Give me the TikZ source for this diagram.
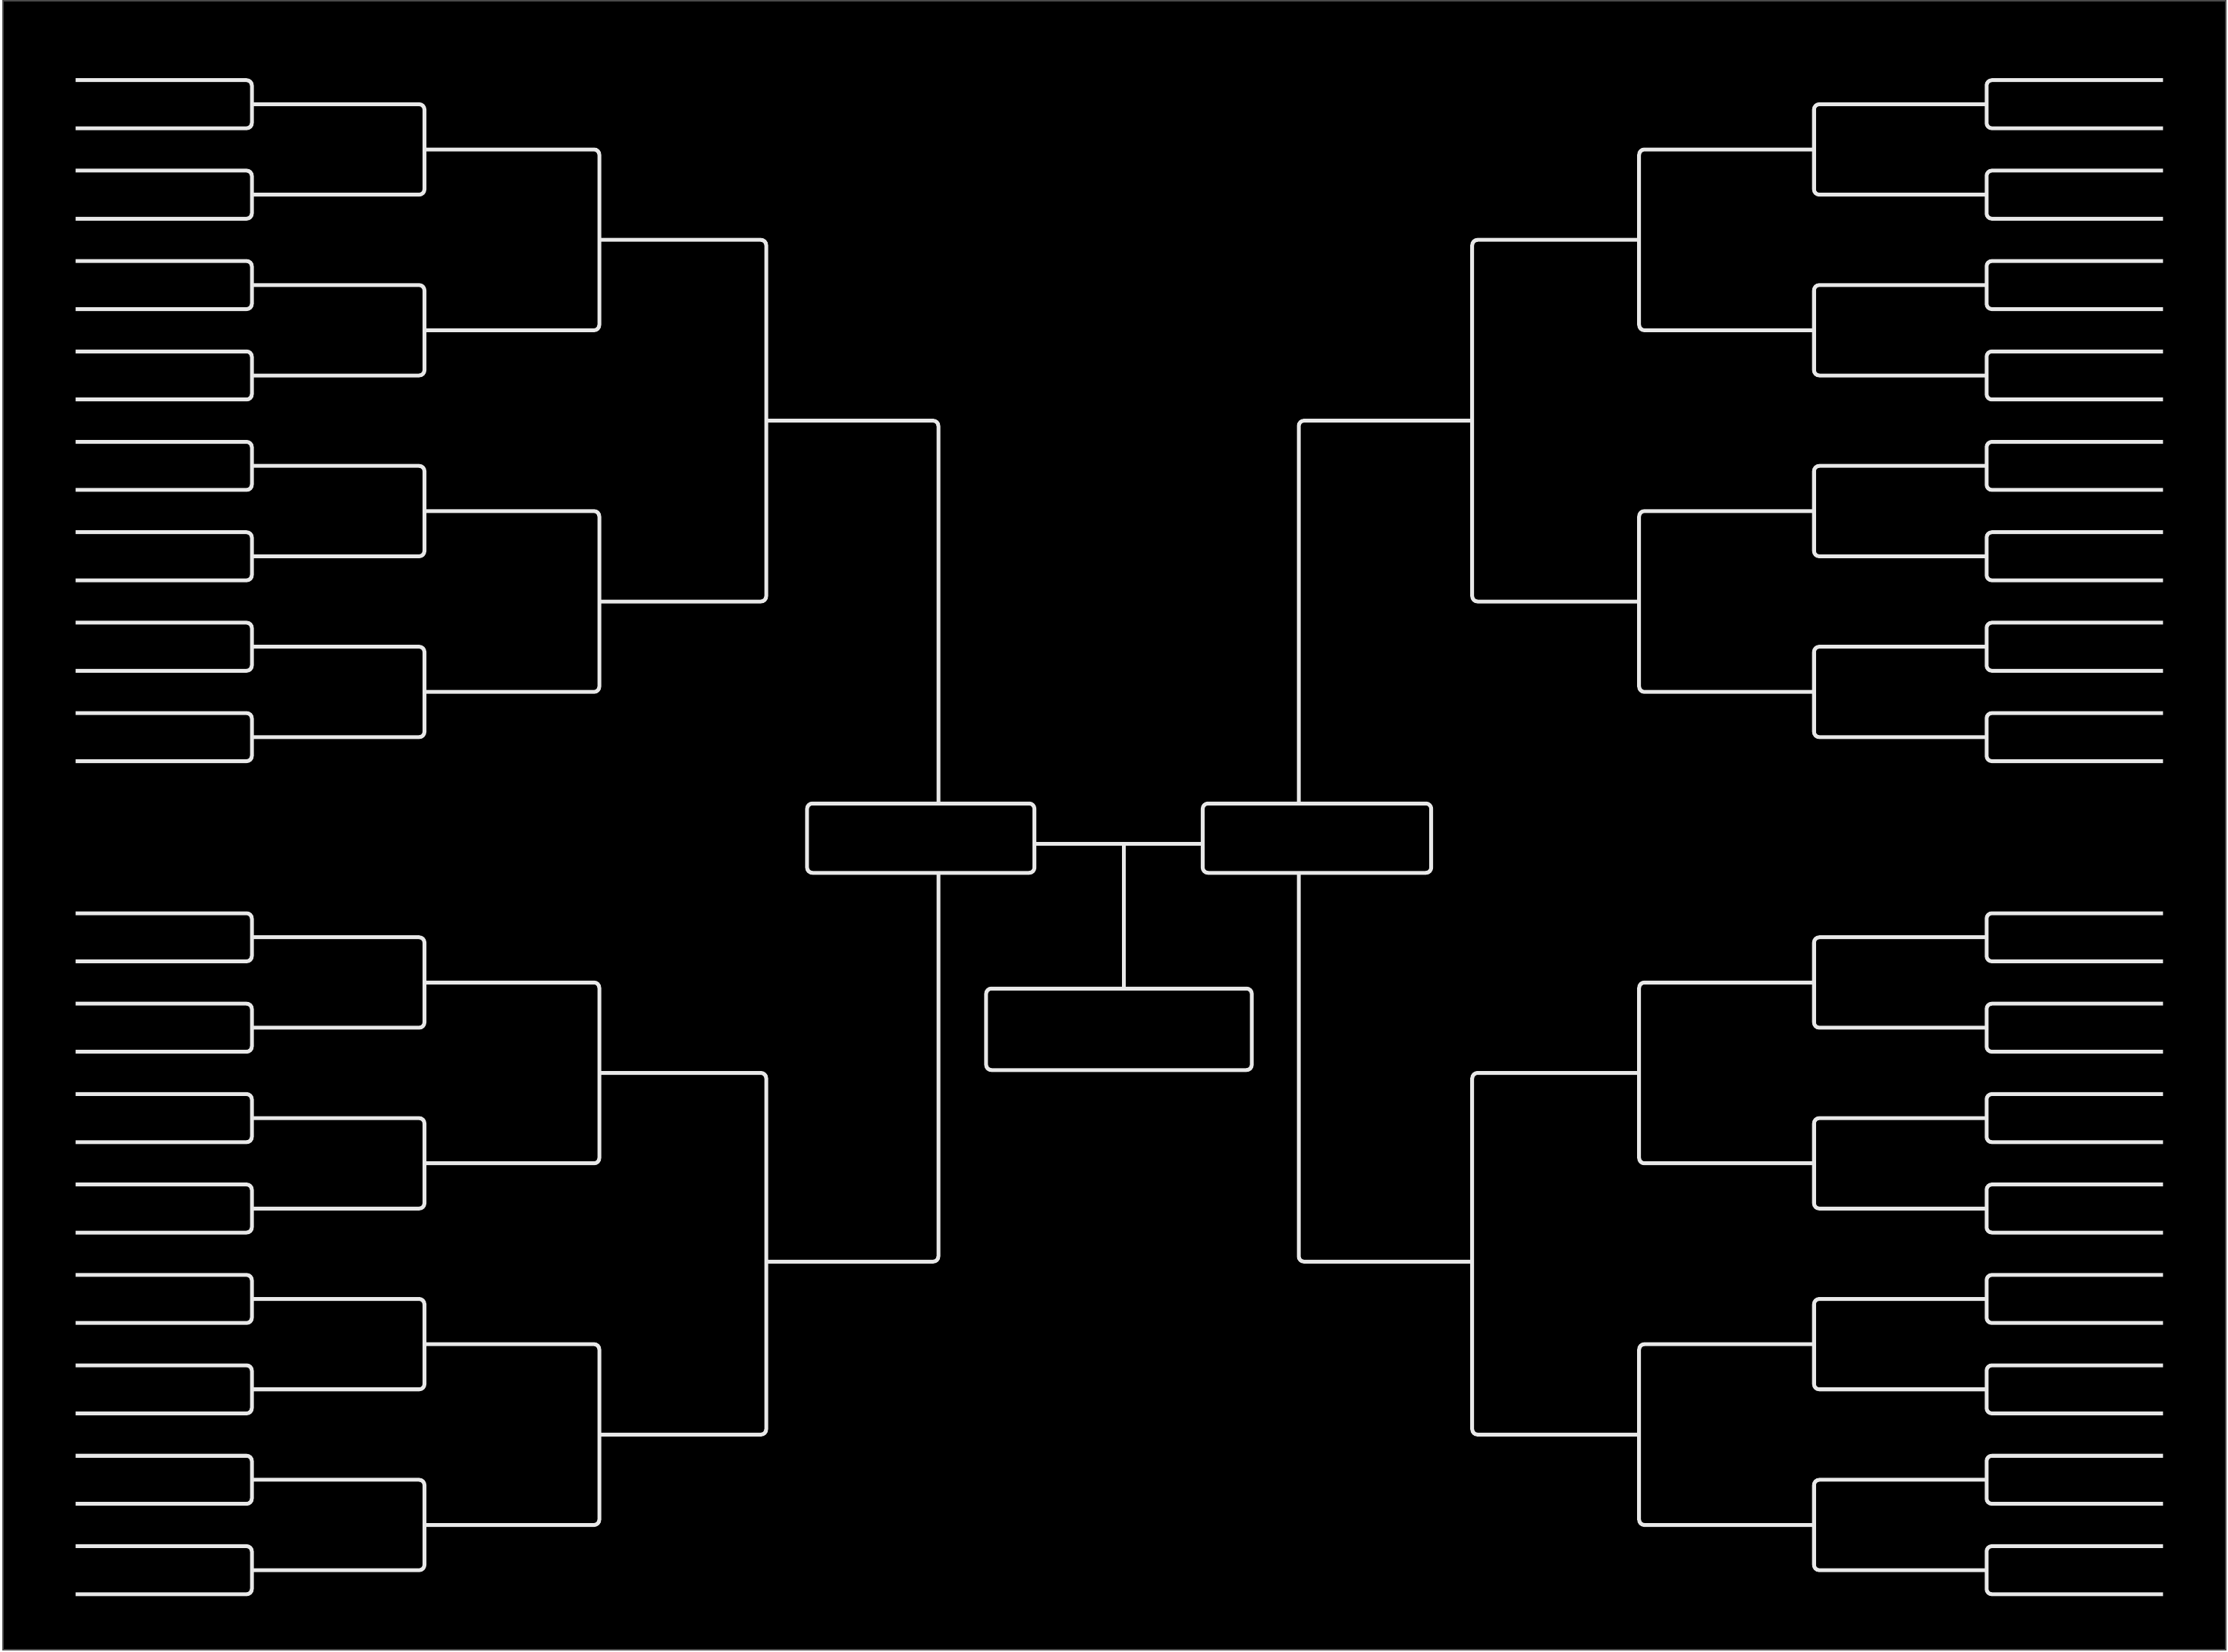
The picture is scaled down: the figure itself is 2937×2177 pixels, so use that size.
\documentclass[tikz,border=0pt]{standalone}
\usetikzlibrary{calc}
\definecolor{ln}{HTML}{E8E8E8}
\definecolor{edgegray}{HTML}{4A4A4A}
\newcommand\bquarter[1]{%
  \foreach \k in {0,...,7}{%
    \pgfmathsetmacro\ya{#1+119.2*\k}%
    \pgfmathsetmacro\yb{\ya+63.4}%
    \draw[br] (99.5,\ya) -- (332,\ya) -- (332,\yb) -- (99.5,\yb);
  }%
  \foreach \k in {0,...,3}{%
    \pgfmathsetmacro\ya{#1+31.7+238.4*\k}%
    \pgfmathsetmacro\yb{\ya+119.2}%
    \draw[br] (332,\ya) -- (559.5,\ya) -- (559.5,\yb) -- (332,\yb);
  }%
  \foreach \k in {0,1}{%
    \pgfmathsetmacro\ya{#1+91.3+476.8*\k}%
    \pgfmathsetmacro\yb{\ya+238.4}%
    \draw[br] (559.5,\ya) -- (790,\ya) -- (790,\yb) -- (559.5,\yb);
  }%
  \pgfmathsetmacro\ya{#1+210.5}%
  \pgfmathsetmacro\yb{\ya+476.8}%
  \draw[br] (790,\ya) -- (1010,\ya) -- (1010,\yb) -- (790,\yb);
}
\begin{document}
\begin{tikzpicture}[x=0.01cm,y=-0.01cm,
  br/.style={draw=ln,line width=0.05cm,rounded corners=0.07cm},
  plain/.style={draw=ln,line width=0.05cm},
  boxst/.style={draw=ln,line width=0.05cm,rounded corners=0.07cm,rectangle,
    inner sep=0pt,outer sep=0pt,fill=black}]
\useasboundingbox (0,0) rectangle (2937,2177);
\fill[white] (0,0) rectangle (2937,2177);
\filldraw[fill=black,draw=edgegray,line width=0.02cm] (4,1) rectangle (2934,2175);

% left side
\bquarter{105.7}
\bquarter{1204}
% right side (mirrored)
\begin{scope}[xshift=29.49cm,xscale=-1]
\bquarter{105.7}
\bquarter{1204}
\end{scope}

% semifinal and champion boxes
\node[boxst,minimum width=2.995cm,minimum height=0.914cm] (semiL) at (1213.75,1105) {};
\node[boxst,minimum width=3.01cm,minimum height=0.914cm] (semiR) at (1736,1105) {};
\node[boxst,minimum width=3.5cm,minimum height=1.074cm] (champ) at (1475,1357) {};

% round 5 connectors
\coordinate (tL) at (1237,554.6);
\coordinate (bL) at (1237,1663.3);
\coordinate (tR) at (1712,554.6);
\coordinate (bR) at (1712,1663.3);
\coordinate (r4tL) at (1010,554.6);
\coordinate (r4bL) at (1010,1663.3);
\coordinate (r4tR) at (1939,554.6);
\coordinate (r4bR) at (1939,1663.3);
\draw[br] (r4tL) -- (tL) -- (tL |- semiL.north);
\draw[br] (r4bL) -- (bL) -- (bL |- semiL.south);
\draw[br] (r4tR) -- (tR) -- (tR |- semiR.north);
\draw[br] (r4bR) -- (bR) -- (bR |- semiR.south);

% final connector
\coordinate (mid) at (1481.5,1112.7);
\draw[plain] (semiL.east |- mid) -- (semiR.west |- mid);
\draw[plain] (mid) -- (mid |- champ.north);
\end{tikzpicture}
\end{document}
